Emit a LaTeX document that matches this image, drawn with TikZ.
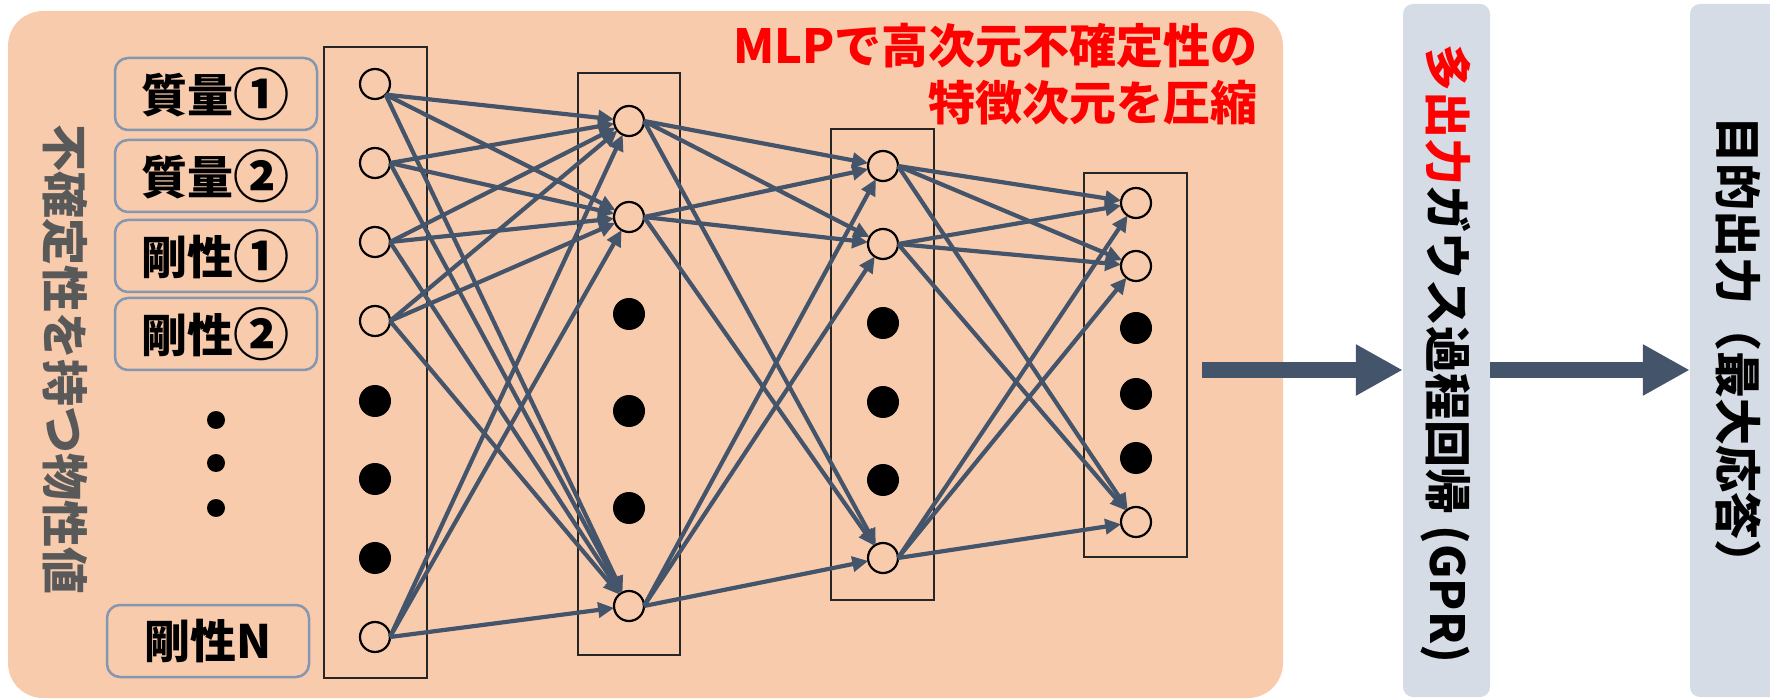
\documentclass[tikz,border=0pt]{standalone}
\usepackage{fontspec}
\usepackage{graphicx}
\newfontfamily\jp{Noto Sans CJK JP}
\usetikzlibrary{arrows.meta}
\definecolor{bgorange}{HTML}{F8CBAD}
\definecolor{slate}{HTML}{44546A}
\definecolor{boxblue}{HTML}{8497B0}
\definecolor{gprfill}{HTML}{D6DCE5}
\definecolor{txtgray}{HTML}{595959}
\newcommand\cnum[1]{\raisebox{-0.06em}{\scalebox{1.22}{#1}}}
\begin{document}
\begin{tikzpicture}[x=1pt,y=-1pt,
  neuron/.style={circle,draw=black,line width=2.2pt,minimum size=30pt,inner sep=0pt,outer sep=0pt},
  hidden/.style={circle,fill=black,minimum size=32pt,inner sep=0pt,outer sep=0pt},
  smalldot/.style={circle,fill=black,minimum size=18pt,inner sep=0pt,outer sep=0pt},
  layerbox/.style={draw=black!85,line width=1.6pt},
  inbox/.style={draw=boxblue,line width=2.5pt,rounded corners=13pt,minimum width=202pt,minimum height=72pt,inner sep=0pt,font=\jp\bfseries\fontsize{46}{50}\selectfont},
  conn/.style={draw=slate,line width=4.2pt,-{Triangle[length=16pt,width=15pt]}},
  bigarrow/.style={draw=slate,line width=16pt,-{Triangle[length=47pt,width=48pt]}},
  bigfont/.style={font=\jp\bfseries\fontsize{47}{57}\selectfont},
  panel/.style={fill=gprfill,rounded corners=10pt,minimum width=#1,minimum height=693pt,inner sep=0pt},
]
\clip (0,0) rectangle (1770,700);
% background region
\fill[bgorange, rounded corners=35pt] (8,11) rectangle (1283,698);

% layer boxes
\draw[layerbox] (324,47) rectangle (427,678);
\draw[layerbox] (578,73) rectangle (680,655);
\draw[layerbox] (831,129) rectangle (934,600);
\draw[layerbox] (1084,173) rectangle (1187,557);

% layer 1
\node[neuron] (A1) at (375,84) {};
\node[neuron] (A2) at (375,163) {};
\node[neuron] (A3) at (375,242) {};
\node[neuron] (A4) at (375,321) {};
\node[hidden] (a5) at (375,401) {};
\node[hidden] (a6) at (375,479) {};
\node[hidden] (a7) at (375,558) {};
\node[neuron] (A5) at (375,637) {};
% layer 2
\node[neuron] (B1) at (629,121) {};
\node[neuron] (B2) at (629,217) {};
\node[hidden] (b3) at (629,314) {};
\node[hidden] (b4) at (629,411) {};
\node[hidden] (b5) at (629,508) {};
\node[neuron] (B3) at (629,606) {};
% layer 3
\node[neuron] (C1) at (883,166) {};
\node[neuron] (C2) at (883,244) {};
\node[hidden] (c3) at (883,323) {};
\node[hidden] (c4) at (883,402) {};
\node[hidden] (c5) at (883,480) {};
\node[neuron] (C3) at (883,558) {};
% layer 4
\node[neuron] (D1) at (1136,203) {};
\node[neuron] (D2) at (1136,266) {};
\node[hidden] (d3) at (1136,328) {};
\node[hidden] (d4) at (1136,394) {};
\node[hidden] (d5) at (1136,458) {};
\node[neuron] (D3) at (1136,522) {};

% connectors
\foreach \t in {B1,B2,B3} \draw[conn] (A1.south east) -- (\t);
\foreach \s in {A2,A3,A4,A5} \foreach \t in {B1,B2,B3} \draw[conn] (\s.east) -- (\t);
\foreach \s in {B1,B2,B3} \foreach \t in {C1,C2,C3} \draw[conn] (\s.east) -- (\t);
\foreach \s in {C1,C2,C3} \foreach \t in {D1,D2,D3} \draw[conn] (\s.east) -- (\t);

% inputs
\node[inbox] (in1) at (216,94) {質量\cnum{①}};
\node[inbox] (in2) at (216,176) {質量\cnum{②}};
\node[inbox] (in3) at (216,256) {剛性\cnum{①}};
\node[inbox] (in4) at (216,334) {剛性\cnum{②}};
\node[inbox] (inN) at (208,641) {剛性N};
\node[smalldot] (dot1) at (216,420) {};
\node[smalldot] (dot2) at (216,463) {};
\node[smalldot] (dot3) at (216,508) {};

% left vertical label
\node[rotate=-90, bigfont, text=txtgray, inner sep=0pt] (vlabel) at (65,360) {不確定性を持つ物性値};

% title
\node[anchor=base east, inner sep=0pt, bigfont, text=red] (title1) at (1258,64) {MLPで高次元不確定性の};
\node[anchor=base east, inner sep=0pt, bigfont, text=red] (title2) at (1258,121) {特徴次元を圧縮};

% GPR panel and output panel
\node[panel=87pt] (gpr) at (1446.5,350.5) {};
\node[panel=100pt] (out) at (1740,350.5) {};
\node[rotate=-90, bigfont, inner sep=0pt] (gprtext) at (1446,354) {{\color{red}多出力}ガウス過程回帰 (GPR)};
\node[rotate=-90, bigfont, inner sep=0pt] (outtext) at (1738,352) {目的出力（最大応答）};

% big arrows
\coordinate (a1s) at (1202,370);
\draw[bigarrow] (a1s) -- (a1s -| gpr.west);
\draw[bigarrow] (gpr.east |- a1s) -- (out.west |- a1s);
\end{tikzpicture}
\end{document}
